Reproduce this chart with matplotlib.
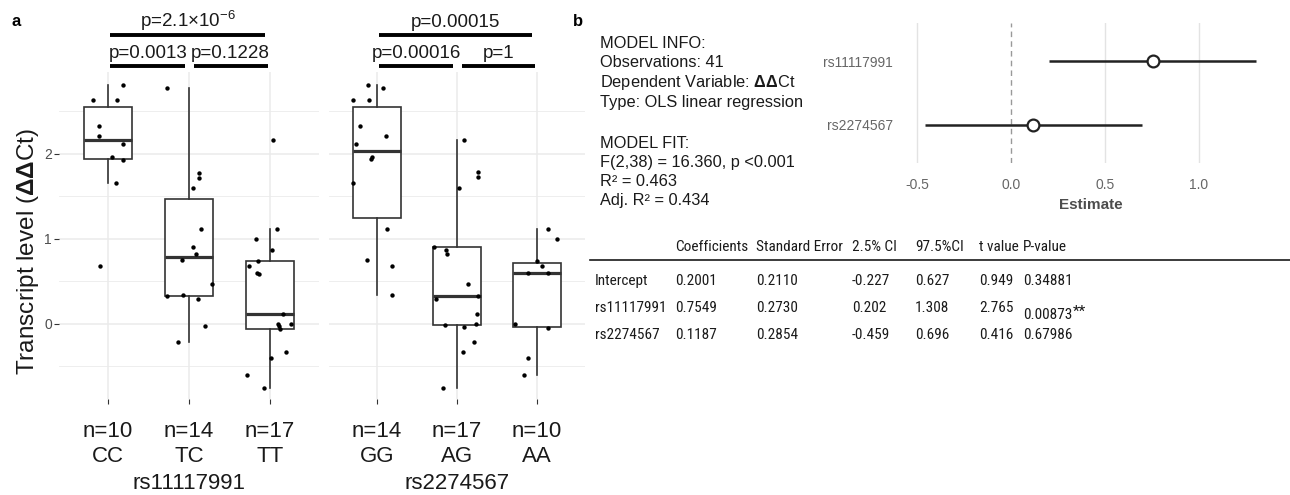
import matplotlib
matplotlib.use("Agg")
import matplotlib.pyplot as plt
from matplotlib import font_manager
import numpy as np

plt.rcParams['font.family'] = ['Liberation Sans', 'DejaVu Sans']
plt.rcParams['mathtext.fontset'] = 'custom'
plt.rcParams['mathtext.rm'] = 'Liberation Sans'
plt.rcParams['mathtext.it'] = 'Liberation Sans:italic'
plt.rcParams['mathtext.bf'] = 'Liberation Sans:bold'
plt.rcParams['mathtext.default'] = 'regular'

# ---------------- data ----------------
snp1_groups = ["CC", "TC", "TT"]
snp1_n = [10, 14, 17]
cc_vals = [2.81, 2.63, 2.63, 2.32, 2.21, 2.11, 1.96, 1.92, 1.65, 0.68]
cc_jit = [0.19, -0.19, 0.11, -0.11, -0.11, 0.19, 0.05, 0.19, 0.10, -0.10]
tc_vals = [2.77, 1.77, 1.71, 1.59, 1.11, 0.90, 0.82, 0.75, 0.47, 0.32, 0.34, 0.29, -0.03, -0.22]
tc_jit = [-0.27, 0.12, 0.12, 0.05, 0.15, 0.05, 0.09, -0.09, 0.28, -0.27, -0.07, 0.11, 0.20, -0.14]
tt_vals = [2.16, 1.11, 1.00, 0.87, 0.68, 0.73, 0.60, 0.58, 0.11, -0.01, -0.03, -0.06, 0.00, -0.40, -0.34, -0.60, -0.76]
tt_jit = [0.04, 0.09, -0.17, 0.02, -0.26, -0.15, -0.16, -0.14, 0.16, 0.10, 0.11, 0.12, 0.26, 0.01, 0.20, -0.28, -0.07]

snp2_groups = ["GG", "AG", "AA"]
snp2_n = [14, 17, 10]
gg_vals = [2.81, 2.77, 2.63, 2.63, 2.32, 2.21, 2.11, 1.96, 1.93, 1.65, 1.11, 0.75, 0.68, 0.34]
gg_jit = [-0.11, 0.08, -0.30, -0.10, -0.21, 0.11, -0.26, -0.06, -0.08, -0.30, 0.13, -0.13, 0.19, 0.19]
ag_vals = [2.16, 1.78, 1.72, 1.59, 0.90, 0.87, 0.82, 0.46, 0.29, 0.32, 0.11, -0.02, -0.04, 0.00, -0.22, -0.34, -0.76]
ag_jit = [0.09, 0.26, 0.26, 0.03, -0.29, -0.14, -0.13, 0.14, -0.26, 0.26, 0.25, -0.15, 0.09, 0.24, 0.21, 0.08, -0.18]
aa_vals = [1.11, 1.00, 0.73, 0.68, 0.60, 0.60, 0.00, -0.05, -0.40, -0.61]
aa_jit = [0.14, 0.25, 0.00, 0.06, -0.11, 0.14, -0.28, 0.14, -0.11, -0.16]

snp1_pvals = ["p=0.0013", "p=0.1228", r"p=2.1×10$^{-6}$"]
snp2_pvals = ["p=0.00016", "p=1", "p=0.00015"]

terms = ["Intercept", "rs11117991", "rs2274567"]
coef = [0.2001, 0.7549, 0.1187]
std_err = [0.2110, 0.2730, 0.2854]
ci_low = [-0.227, 0.202, -0.459]
ci_high = [0.627, 1.308, 0.696]
t_val = [0.949, 2.765, 0.416]
p_val = ["0.34881", "0.00873", "0.67986"]
p_star = ["", "**", ""]
table_cols = ["Coefficients", "Standard Error", "2.5% CI", "97.5%CI", "t value", "P-value"]

model_info = ["MODEL INFO:", "Observations: 41", r"Dependent Variable: $\mathbf{\Delta\Delta}$Ct",
              "Type: OLS linear regression", "", "MODEL FIT:", "F(2,38) = 16.360, p <0.001",
              "R² = 0.463", "Adj. R² = 0.434"]

# ---------------- figure ----------------
W, H = 1290, 495
fig = plt.figure(figsize=(W / 100, H / 100), dpi=100)


def px_axes(x0, y0, x1, y1):
    return fig.add_axes([x0 / W, 1 - y1 / H, (x1 - x0) / W, (y1 - y0) / H])


GRID = "#EBEBEB"
BOXC = "#333333"
YLIM = (-0.888, 2.959)


def box_panel(ax, groups, ns, vals_list, jit_list, pvals, xlabel, show_y):
    ax.set_xlim(0.4, 3.6)
    ax.set_ylim(*YLIM)
    for s in ax.spines.values():
        s.set_visible(False)
    ax.set_yticks([0, 1, 2])
    ax.set_yticks([-0.5, 0.5, 1.5, 2.5], minor=True)
    ax.grid(True, which='major', color=GRID, lw=1.1, zorder=0)
    ax.grid(True, which='minor', axis='y', color=GRID, lw=0.6, zorder=0)
    ax.set_axisbelow(True)
    ax.tick_params(axis='y', which='minor', length=0)
    ax.tick_params(axis='both', which='major', length=3.5, color="#333333", width=0.8)
    if show_y:
        ax.tick_params(axis='y', labelsize=10, labelcolor="#4D4D4D", pad=2)
    else:
        ax.tick_params(axis='y', length=0, labelleft=False)
    pos = [1, 2, 3]
    ax.boxplot(vals_list, positions=pos, widths=0.6, showfliers=False, patch_artist=True,
               boxprops=dict(facecolor='white', edgecolor=BOXC, lw=1.2),
               whiskerprops=dict(color=BOXC, lw=1.2), capprops=dict(lw=0),
               medianprops=dict(color=BOXC, lw=2.3), zorder=2)
    for p, vals, jit in zip(pos, vals_list, jit_list):
        ax.scatter(np.array(jit) + p, vals, s=10, color='black', zorder=3, lw=0)
    ax.set_xticks(pos)
    ax.set_xticklabels([f"n={n}\n{g}" for n, g in zip(ns, groups)], fontsize=16,
                       color="#1A1A1A", linespacing=1.25)
    ax.tick_params(axis='x', pad=12.5)
    ax.set_xlabel(xlabel, fontsize=16, color="#1A1A1A", labelpad=4)
    # significance brackets
    brackets = [(1.03, 1.95, 3.03, 3.12), (2.06, 2.97, 3.03, 3.12), (1.03, 2.94, 3.39, 3.49)]
    for (xa, xb, yb, yt), lab in zip(brackets, pvals):
        ax.plot([xa, xb], [yb, yb], color='black', lw=2.8, solid_capstyle='butt', clip_on=False)
        ax.text((xa + xb) / 2, yt, lab, ha='center', va='baseline', fontsize=13.5,
                color="#1A1A1A", clip_on=False)


ax1 = px_axes(59.4, 72, 318.6, 399)
box_panel(ax1, snp1_groups, snp1_n, [cc_vals, tc_vals, tt_vals], [cc_jit, tc_jit, tt_jit],
          snp1_pvals, "rs11117991", True)
ax1.set_ylabel(r"Transcript level ($\mathbf{\Delta\Delta}$Ct)", fontsize=17.5, color="#1A1A1A")
ax1.yaxis.set_label_coords(-0.072, 0.45)

ax2 = px_axes(329, 72, 585, 399)
box_panel(ax2, snp2_groups, snp2_n, [gg_vals, ag_vals, aa_vals], [gg_jit, ag_jit, aa_jit],
          snp2_pvals, "rs2274567", False)

fig.text(12 / W, 1 - 22 / H, "a", fontsize=12, fontweight='bold', va='center')
fig.text(573 / W, 1 - 22 / H, "b", fontsize=12, fontweight='bold', va='center')

# ---------------- forest plot ----------------
ax3 = px_axes(908, 23, 1273, 163)
ax3.set_xlim(-0.547, 1.396)
ax3.set_ylim(0.4, 2.6)
for s in ax3.spines.values():
    s.set_visible(False)
ax3.set_xticks([-0.5, 0.0, 0.5, 1.0])
ax3.set_xticklabels(["-0.5", "0.0", "0.5", "1.0"])
for xv in [-0.5, 0.5, 1.0]:
    ax3.axvline(xv, color="#E3E3E3", lw=1.0, zorder=0)
ax3.axvline(0, color="#999999", lw=1.0, ls=(0, (4, 3)), zorder=1)
ax3.tick_params(axis='both', length=0, labelsize=10, labelcolor="#666666")
ax3.tick_params(axis='x', pad=11)
ax3.tick_params(axis='y', pad=11)
rows = [2, 1]
ax3.set_yticks(rows)
ax3.set_yticklabels(terms[1:])
for r, c, lo, hi in zip(rows, coef[1:], ci_low[1:], ci_high[1:]):
    ax3.plot([lo, hi], [r, r], color="#222222", lw=1.8, zorder=2, solid_capstyle='butt')
    ax3.plot([c], [r], marker='o', ms=8.5, mfc='white', mec='#222222', mew=1.6, zorder=3)
ax3.set_xlabel("Estimate", fontsize=11, fontweight='bold', color="#4D4D4D", labelpad=4)

# model info text
info_y = [44, 63, 83, 102, None, 143, 162, 181, 201]
for line, yy in zip(model_info, info_y):
    if line and yy is not None:
        fig.text(600 / W, 1 - yy / H, line, fontsize=11.8, color="#1A1A1A", va='center')

# ---------------- table ----------------
narrow = None
for cand in ['Liberation Sans Narrow', 'Arial Narrow', 'Roboto Condensed', 'Open Sans Condensed']:
    try:
        font_manager.findfont(cand, fallback_to_default=False)
        narrow = cand
        break
    except Exception:
        pass
if narrow:
    TF = [narrow, 'Liberation Sans']
    TS = 11
else:
    TF = ['Liberation Sans']
    TS = 9.3

col_x = [675, 756, 852, 915, 979, 1023]
row_y = [281, 308, 335]
for cx, name in zip(col_x, table_cols):
    fig.text(cx / W, 1 - 247 / H, name, fontsize=TS, family=TF, va='center', color="#1A1A1A")
fig.add_artist(plt.Line2D([590 / W, 1290 / W], [1 - 260 / H, 1 - 260 / H], color='#1A1A1A', lw=1.2))
for i, ry in enumerate(row_y):
    cells = [terms[i], f"{coef[i]:.4f}", f"{std_err[i]:.4f}", f"{ci_low[i]:.3f}",
             f"{ci_high[i]:.3f}", f"{t_val[i]:.3f}"]
    xs = [595] + col_x[:-1]
    for cx, txt in zip(xs, cells):
        fig.text(cx / W, 1 - ry / H, txt, fontsize=TS, family=TF, va='center', color="#1A1A1A")
    if p_star[i]:
        t = fig.text(col_x[-1] / W, 1 - (ry + 7) / H, p_val[i], fontsize=TS, family=TF,
                     va='center', color="#1A1A1A")
        fig.add_artist(plt.Annotation(p_star[i], xy=(1.0, 1.25), xycoords=t, ha='left', va='top',
                                      fontsize=TS, family=TF, color="#1A1A1A"))
    else:
        fig.text(col_x[-1] / W, 1 - ry / H, p_val[i], fontsize=TS, family=TF, va='center',
                 color="#1A1A1A")

fig.savefig("out.png", dpi=100)
